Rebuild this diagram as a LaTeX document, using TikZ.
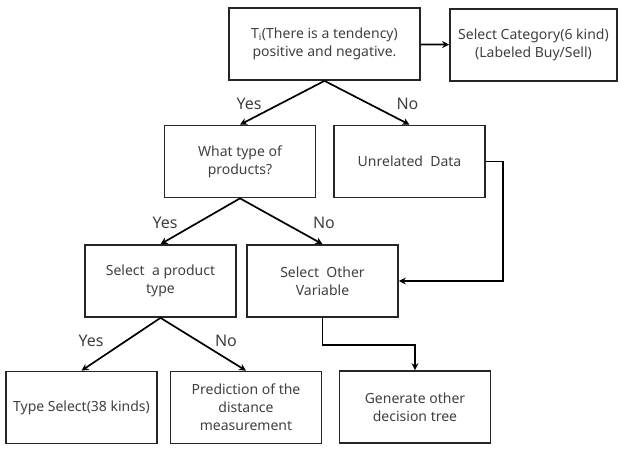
\documentclass[tikz,border=0pt]{standalone}
\usepackage{fontspec}
\setmainfont{Noto Sans}
\usetikzlibrary{arrows.meta}
\definecolor{txtgray}{HTML}{404040}
\definecolor{linegray}{HTML}{262626}
\begin{document}
\begin{tikzpicture}[x=1pt, y=-1pt, thick, line width=1.7pt,
    >={Stealth[length=7pt, width=7pt]},
    box/.style={rectangle, draw=linegray, align=center, text=txtgray,
      inner sep=2pt, minimum width=#1, minimum height=72pt,
      font=\fontsize{14}{18}\selectfont},
    box/.default=151pt,
    answer/.style={inner sep=0pt, text=txtgray,
      font=\fontsize{16}{18}\selectfont}]%
    \useasboundingbox (0, 0) rectangle (624, 469);
    \node[box=191pt]
      (t) at (324.5, 44) {T\textsubscript{i}(There is a tendency)\\positive and negative.};
    \node[box=167pt]
      (cat) at (533.5, 45) {Select Category(6 kind)\\(Labeled Buy/Sell)};
    \node[box]
      (what) at (240, 161.5) {What type of\\products?};
    \node[box]
      (unrel) at (409.5, 161.5) {Unrelated~~Data};
    \node[box]
      (prod) at (160.5, 281) {Select~~a product\\type};
    \node[box]
      (other) at (322.5, 281) {Select~~Other\\Variable};
    \node[box]
      (tsel) at (81.5, 407.5) {Type Select(38 kinds)};
    \node[box]
      (pred) at (246, 407.5) {Prediction of the\\distance\\measurement};
    \node[box]
      (gen) at (415, 407) {Generate other\\decision tree};

    \node[answer] (yes1) at (249, 104) {Yes};
    \node[answer] (no1) at (407.5, 104) {No};
    \node[answer] (yes2) at (165, 223) {Yes};
    \node[answer] (no2) at (324, 223) {No};
    \node[answer] (yes3) at (91, 341) {Yes};
    \node[answer] (no3) at (226, 341) {No};

    \draw[->] (t) -- (cat);
    \draw[->] (t.south) -- (what.north);
    \draw[->] (t.south) -- (unrel.north);
    \draw[->] (what.south) -- (prod.north);
    \draw[->] (what.south) -- (other.north);
    \draw[->] (prod.south) -- (tsel.north);
    \draw[->] (prod.south) -- (pred.north);

    \draw[->] (unrel.east) -- ++(17, 0) |- (other.east);
    \draw[->] (other.south) -- ++(0, 27) -| (gen.north);
  \end{tikzpicture}
\end{document}
